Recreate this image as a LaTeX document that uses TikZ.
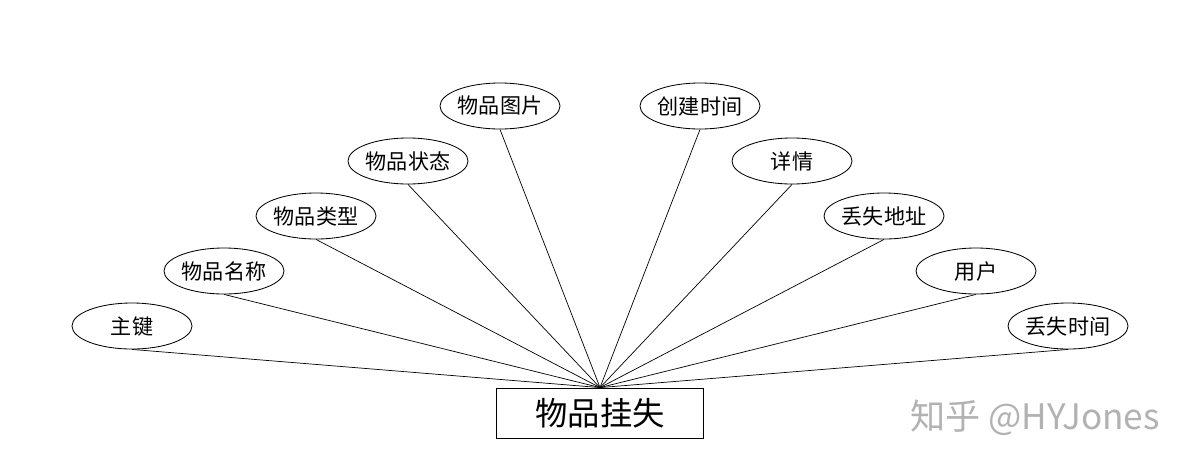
\documentclass[tikz,border=0pt]{standalone}
\usepackage{fontspec}
\setmainfont{Noto Sans CJK SC}
\usetikzlibrary{shapes.geometric,positioning}

\begin{document}
\begin{tikzpicture}[
        x=0.025cm, y=-0.025cm,
        line width=0.6pt,
        attr/.style={
          draw,
          ellipse,
          minimum width=3cm,
          minimum height=1.15cm,
          inner sep=0pt,
          font=\fontsize{15pt}{17pt}\selectfont
        },
        entity/.style={
          draw,
          minimum width=5.175cm,
          minimum height=1.25cm,
          font=\fontsize{23pt}{26pt}\selectfont
        },
        link/.style={line width=0.5pt}
      ]
      \useasboundingbox (0,0) rectangle (1200,468);

      % entity
      \node[entity] (ent) at (600,413) {物品挂失};

      % left attributes
      \node[attr] (zj)   at (132,326) {主键};
      \node[attr] (wpmc) at (224,271) {物品名称};
      \node[attr] (wplx) at (316,216) {物品类型};
      \node[attr] (wpzt) at (408,161) {物品状态};
      \node[attr] (wptp) at (500,106) {物品图片};

      % right attributes
      \node[attr] (cjsj) at (700,106) {创建时间};
      \node[attr] (xq)   at (792,161) {详情};
      \node[attr] (dsdz) at (884,216) {丢失地址};
      \node[attr] (yh)   at (976,271) {用户};
      \node[attr] (dssj) at (1068,326) {丢失时间};

      \foreach \a in {zj,wpmc,wplx,wpzt,wptp,cjsj,xq,dsdz,yh,dssj}
        \draw[link] (\a.south) -- (ent.north);

      % watermark
      \node[text=black!30, font=\fontsize{25pt}{28pt}\selectfont, anchor=west, inner sep=0pt] (wm) at (910,418) {知乎 @HYJones};
\end{tikzpicture}
\end{document}
